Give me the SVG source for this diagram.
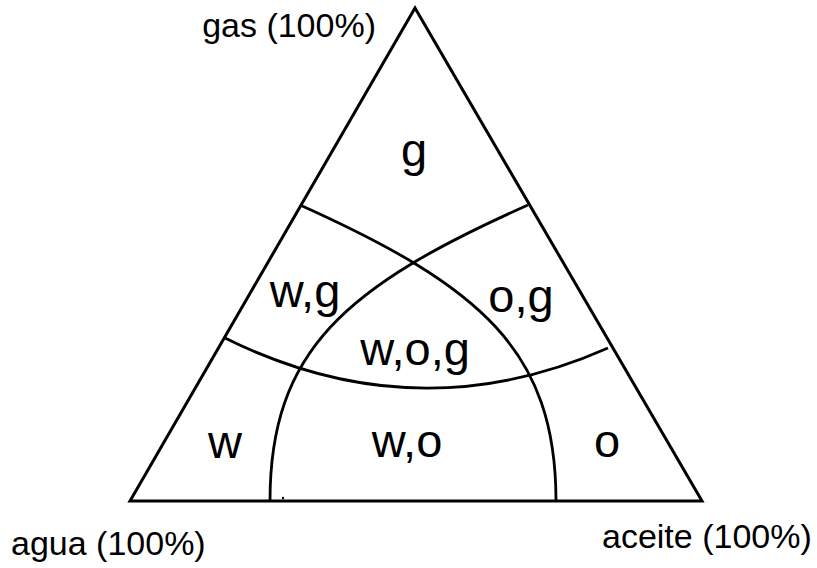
<svg xmlns="http://www.w3.org/2000/svg" width="817" height="568" viewBox="0 0 817 568">
<style>
.ln{fill:none;stroke:#000;stroke-width:3;stroke-linejoin:miter}
.cv{fill:none;stroke:#000;stroke-width:2.8}
.lab{font-family:"Liberation Sans",Arial,sans-serif;font-size:47px;fill:#000;text-anchor:middle}
.ax{font-family:"Liberation Sans",Arial,sans-serif;font-size:34px;fill:#000}
</style>
<rect width="817" height="568" fill="#fff"/>
<g id="connectors">
<path id="triangle" class="ln" d="M415,8 L702,501 L130,501 Z"/>
<path id="curve-w" class="cv" d="M300,205 C480,286 556,350 556,501"/>
<path id="curve-o" class="cv" d="M528,205 C346,286 270,350 270,501"/>
<path id="curve-g" class="cv" d="M225,338 Q416.5,433 608,348"/>
<circle cx="283" cy="498" r="1.2" fill="#000"/>
</g>
<g id="node-gas"><text class="ax" x="376" y="37" text-anchor="end">gas (100%)</text></g>
<g id="node-agua"><text class="ax" x="11" y="555">agua (100%)</text></g>
<g id="node-aceite"><text class="ax" x="602" y="548">aceite (100%)</text></g>
<g id="region-g"><text class="lab" x="414" y="166">g</text></g>
<g id="region-wg"><text class="lab" x="305" y="307">w,g</text></g>
<g id="region-og"><text class="lab" x="521" y="312">o,g</text></g>
<g id="region-wog"><text class="lab" x="415" y="365">w,o,g</text></g>
<g id="region-w"><text class="lab" x="225" y="458">w</text></g>
<g id="region-wo"><text class="lab" x="407" y="457">w,o</text></g>
<g id="region-o"><text class="lab" x="607" y="457">o</text></g>
</svg>
